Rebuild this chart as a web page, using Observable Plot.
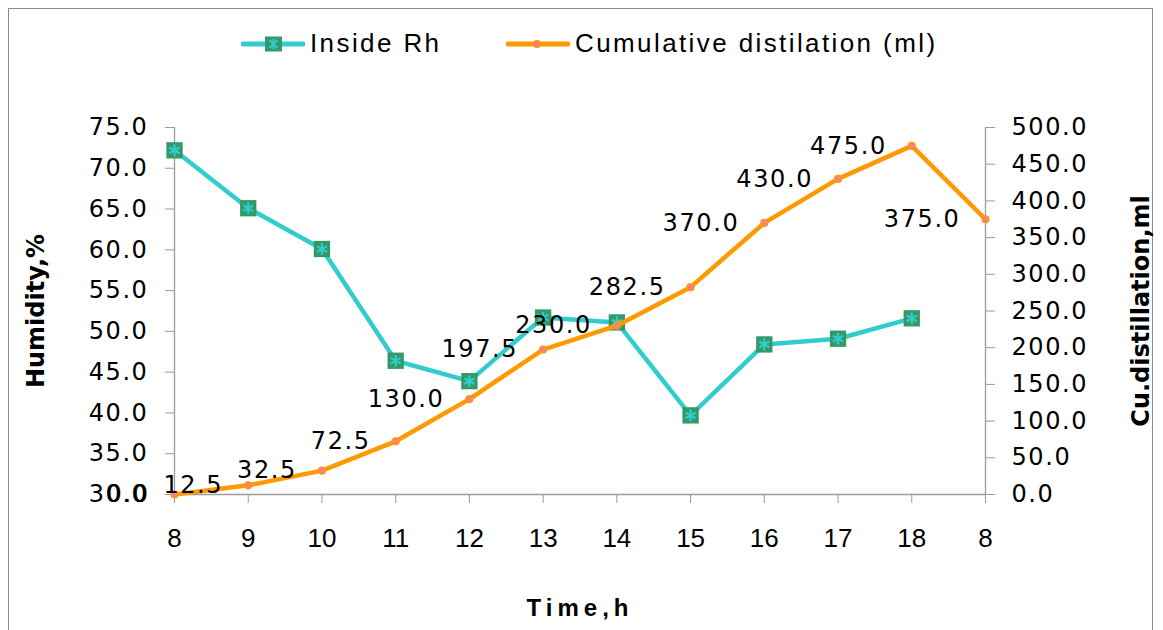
<!DOCTYPE html>
<html>
<head>
<meta charset="utf-8">
<script src="https://cdn.jsdelivr.net/npm/d3@7"></script>
<script src="https://cdn.jsdelivr.net/npm/@observablehq/plot@0.6"></script>
<style>
  html, body { margin: 0; padding: 0; background: #fff; overflow: hidden; }
  #wrap { position: relative; width: 1163px; height: 630px; overflow: hidden; }
  #frame { position: absolute; left: 8px; top: 8px; width: 1145px; height: 700px; border: 1.5px solid #8c8c8c; box-sizing: border-box; }
  #legend { position: relative; height: 70px; width: 1163px; font-family: "Liberation Sans", Arial, sans-serif; font-size: 26px; color: #000; }
  .lg-item { position: absolute; top: 26px; height: 36px; }
  .lg-item svg { position: absolute; top: 0; left: 0; }
  .lg-item span { position: absolute; top: 1px; left: 69px; white-space: nowrap; letter-spacing: 2.4px; line-height: 32px; }
  #chart { position: absolute; left: 0; top: 70px; }
  g[aria-label="y-axis tick label"] text { font-family: "DejaVu Sans", Verdana, sans-serif; font-size: 24px; letter-spacing: 1.6px; fill: #000; }
  g[aria-label="x-axis tick label"] text { font-family: "Liberation Sans", Arial, sans-serif; font-size: 26px; fill: #000; }
  .dlabel text { font-family: "DejaVu Sans", Verdana, sans-serif; font-size: 24px; letter-spacing: 1.6px; }
  .atitle text { font-family: "DejaVu Sans", Verdana, sans-serif; font-weight: bold; font-size: 24px; }
  .xtitle text { font-family: "Liberation Sans", Arial, sans-serif; font-weight: bold; font-size: 24px; letter-spacing: 5px; }
</style>
</head>
<body>
<div id="wrap">
  <div id="frame"></div>
  <div id="legend"></div>
  <div id="chart"></div>
</div>
<script>
// ---- data ----
const hours = ["8", "9", "10", "11", "12", "13", "14", "15", "16", "17", "18", "8"];
const insideRh = [72.2, 65.1, 60.1, 46.4, 43.9, 51.7, 51.1, 39.7, 48.4, 49.1, 51.6, null];
const cumulative = [0.0, 12.5, 32.5, 72.5, 130.0, 197.5, 230.0, 282.5, 370.0, 430.0, 475.0, 375.0];
const leftTicks = [30, 35, 40, 45, 50, 55, 60, 65, 70, 75];
const rightTicks = [0, 50, 100, 150, 200, 250, 300, 350, 400, 450, 500];
const seriesNames = ["Inside Rh", "Cumulative distilation (ml)"];
const yTitleLeft = "Humidity,%";
const yTitleRight = "Cu.distillation,ml";
const xTitle = "Time,h";

// map right-axis values onto the left scale
const leftMin = 30, leftMax = 75, rightMax = 500;
const toLeft = v => leftMin + v * (leftMax - leftMin) / rightMax;
const fromLeft = y => (y - leftMin) * rightMax / (leftMax - leftMin);

const rhData = insideRh.map((v, i) => ({i, v})).filter(d => d.v != null);
const cumData = cumulative.map((v, i) => ({i, v, y: toLeft(v)}));

const cyan = "#33CCCC", green = "#339966", orange = "#FF9900", pink = "#FF8080", axisGray = "#9a9a9a";

const chart = Plot.plot({
  width: 1163,
  height: 560,
  marginLeft: 174,
  marginRight: 178,
  marginTop: 57,
  marginBottom: 136,
  style: {background: "transparent", overflow: "visible"},
  x: {type: "linear", domain: [0, hours.length - 1]},
  y: {domain: [leftMin, leftMax]},
  marks: [
    Plot.ruleX([0, hours.length - 1], {stroke: axisGray, strokeWidth: 1.3}),
    Plot.ruleY([leftMin], {stroke: axisGray, strokeWidth: 1.3}),
    Plot.axisY(leftTicks, {anchor: "left", tickSize: 9, tickPadding: 17, stroke: axisGray, tickFormat: d => d.toFixed(1), label: null}),
    Plot.axisY(rightTicks.map(toLeft), {anchor: "right", tickSize: 9, tickPadding: 17, stroke: axisGray, tickFormat: d => fromLeft(d).toFixed(1), label: null}),
    Plot.axisX(d3.range(hours.length), {anchor: "bottom", tickSize: 9, tickPadding: 25, stroke: axisGray, tickFormat: i => hours[i], label: null}),
    Plot.line(rhData, {x: "i", y: "v", stroke: cyan, strokeWidth: 4.5}),
    Plot.dot(rhData, {x: "i", y: "v", symbol: "square", r: 9.2, fill: green, stroke: "none"}),
    Plot.dot(rhData, {x: "i", y: "v", symbol: "asterisk", r: 5.5, stroke: cyan, strokeWidth: 2.2}),
    Plot.line(cumData, {x: "i", y: "y", stroke: orange, strokeWidth: 4.5}),
    Plot.dot(cumData, {x: "i", y: "y", r: 3.5, fill: pink, stroke: orange, strokeWidth: 1.2}),
    Plot.text(cumData, {x: "i", y: "y", text: d => d.v.toFixed(1), textAnchor: "end", dx: -25, fill: "#000", className: "dlabel"}),
    Plot.text([yTitleLeft], {frameAnchor: "left", dx: -138, rotate: -90, textAnchor: "middle", lineAnchor: "middle", fill: "#000", className: "atitle"}),
    Plot.text([yTitleRight], {frameAnchor: "right", dx: 156, rotate: -90, textAnchor: "middle", lineAnchor: "middle", fill: "#000", className: "atitle"}),
    Plot.text([xTitle], {frameAnchor: "bottom", dy: 114, textAnchor: "middle", lineAnchor: "middle", fill: "#000", className: "xtitle"})
  ]
});
document.getElementById("chart").appendChild(chart);

// ---- legend ----
const legend = document.getElementById("legend");
function addItem(left, name, markerSvg, color) {
  const item = document.createElement("div");
  item.className = "lg-item";
  item.style.left = left + "px";
  item.innerHTML = `<svg width="64" height="36"><line x1="2" x2="62" y1="18" y2="18" stroke="${color}" stroke-width="5" stroke-linecap="round"/>${markerSvg}</svg><span>${name}</span>`;
  legend.appendChild(item);
}
addItem(241, seriesNames[0],
  `<rect x="24" y="10.5" width="17" height="15" fill="${green}"/>` +
  `<path d="M32.5 13v10M28.5 14l8 8M36.5 14l-8 8" stroke="${cyan}" stroke-width="2"/>`, cyan);
addItem(506, seriesNames[1],
  `<circle cx="31" cy="18" r="3.5" fill="${pink}" stroke="${orange}" stroke-width="1.2"/>`, orange);
</script>
</body>
</html>
